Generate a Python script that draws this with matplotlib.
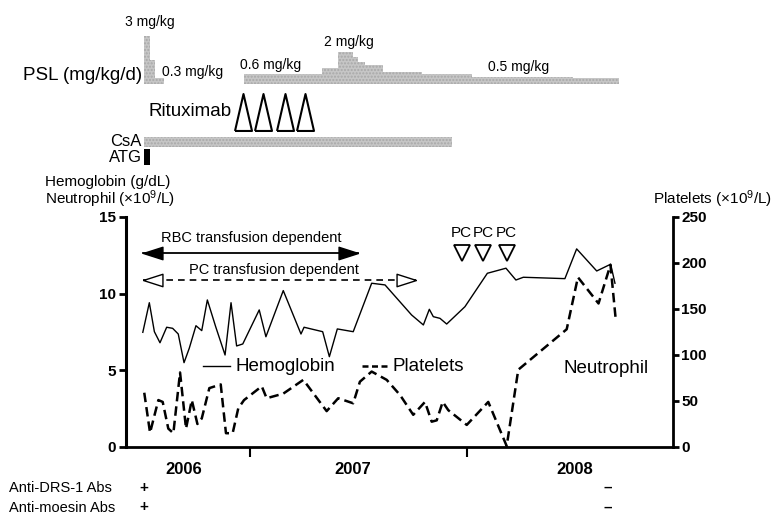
import numpy as np
import matplotlib
matplotlib.use('Agg')
import matplotlib.pyplot as plt
from matplotlib.transforms import blended_transform_factory

plt.rcParams['font.family'] = ['Liberation Sans', 'DejaVu Sans']
plt.rcParams['mathtext.fontset'] = 'custom'
plt.rcParams['mathtext.rm'] = 'Liberation Sans'
plt.rcParams['mathtext.it'] = 'Liberation Sans:italic'
plt.rcParams['mathtext.bf'] = 'Liberation Sans:bold'

# ---------------- data (x = months since Jan 2006) ----------------
hb_month = [6.07, 6.43, 6.71, 7.02, 7.39, 7.72, 8.03, 8.35, 8.64, 9.01, 9.33, 9.64,
            10.10, 10.62, 10.95, 11.26, 11.60, 12.51, 12.88, 13.84, 14.82, 14.99,
            16.02, 16.39, 16.83, 17.71, 18.73, 19.47, 20.94, 21.59, 21.92, 22.14,
            22.51, 22.88, 23.89, 25.13, 26.16, 26.71, 27.12, 29.42, 30.07, 31.18,
            31.95, 32.19]
hb_value = [7.48, 9.41, 7.52, 6.80, 7.81, 7.74, 7.37, 5.50, 6.44, 7.91, 7.59, 9.59,
            7.85, 6.00, 9.41, 6.59, 6.72, 8.94, 7.19, 10.2, 7.37, 7.81,
            7.52, 5.89, 7.70, 7.52, 10.68, 10.57, 8.61, 7.96, 8.98, 8.50,
            8.39, 8.02, 9.15, 11.33, 11.66, 10.89, 11.07, 10.98, 12.92, 11.48,
            11.92, 10.68]

plt_month = [6.15, 6.47, 6.93, 7.17, 7.48, 7.76, 8.13, 8.46, 8.78, 9.09, 9.33, 9.75,
             10.38, 10.67, 11.04, 11.35, 11.67, 12.65, 12.92, 13.84, 14.95, 16.24,
             16.88, 17.71, 18.08, 18.73, 19.56, 20.30, 21.03, 21.68, 22.05, 22.33,
             22.66, 22.97, 23.99, 25.18, 26.20, 26.84, 29.52, 30.14, 31.28, 31.94,
             32.22]
plt_value = [59, 15.5, 51, 49, 20, 15, 81, 20, 51, 25, 31, 64,
             68, 15, 15, 42, 51, 66, 53, 58, 73, 39,
             53, 47.5, 71, 82, 73, 56.5, 35, 49, 27.5, 29,
             49, 40, 24, 49, 1, 84, 128, 184.5, 156, 198,
             141]

psl_start = [6.15, 6.47, 6.75, 11.67, 15.97, 16.88, 17.71, 17.97, 18.36, 19.36, 21.50, 24.26, 29.86]
psl_end = [6.47, 6.75, 7.26, 15.97, 16.88, 17.71, 17.97, 18.36, 19.36, 21.50, 24.26, 29.86, 32.43]
psl_dose = [3.0, 1.5, 0.35, 0.65, 1.0, 2.0, 1.7, 1.4, 1.2, 0.75, 0.65, 0.45, 0.35]
psl_labels = ['3 mg/kg', '0.3 mg/kg', '0.6 mg/kg', '2 mg/kg', '0.5 mg/kg']

rituximab_month = [11.63, 12.74, 13.94, 15.04]
csa_start, csa_end = 6.15, 23.16
atg_start, atg_end = 6.15, 6.47
pc_month = [23.71, 24.90, 26.20]
rbc_dep = (6.07, 17.99)
pc_dep = (6.07, 21.18)

year_ticks = [12, 24]
year_labels = ['2006', '2007', '2008']
year_label_pos = [8.35, 17.7, 29.98]
hb_ticks = [0, 5, 10, 15]
plt_ticks = [0, 50, 100, 150, 200, 250]
antibody_rows = ['Anti-DRS-1 Abs', 'Anti-moesin Abs']
antibody_signs = ['+', '\u2013']
antibody_sign_month = [6.11, 31.77]

# ---------------- figure ----------------
W, H = 774, 516
fig = plt.figure(figsize=(W / 100, H / 100), dpi=100)


def fy(py):
    return 1 - py / H


ax = fig.add_axes([126 / W, fy(447), 547 / W, 230 / H])
ax.set_xlim(5.14, 35.40)
ax.set_ylim(0, 15)
ax2 = ax.twinx()
ax2.set_ylim(0, 250)

ax.plot(hb_month, hb_value, color='black', lw=1.0, zorder=3)
ax2.plot(plt_month, plt_value, color='black', lw=1.8, dashes=(3.8, 2.0), zorder=3)

for a in (ax, ax2):
    a.spines['top'].set_visible(False)
ax.spines['right'].set_visible(False)
ax2.spines['left'].set_visible(False)
ax2.spines['bottom'].set_visible(False)
ax.spines['left'].set_linewidth(2.2)
ax.spines['bottom'].set_linewidth(2.0)
ax2.spines['right'].set_linewidth(2.0)

ax.set_yticks(hb_ticks)
ax.tick_params(axis='y', direction='out', length=5, width=2, labelsize=11, pad=2)
for lab in ax.get_yticklabels():
    lab.set_fontweight('bold')
ax.set_xticks(year_ticks)
ax.set_xticklabels([])
ax.tick_params(axis='x', direction='out', length=7, width=1.5)
ax2.set_yticks(plt_ticks)
ax2.tick_params(axis='y', direction='out', length=4, width=2, labelsize=11, pad=2)
for lab in ax2.get_yticklabels():
    lab.set_fontweight('bold')

bt = blended_transform_factory(ax.transData, ax.transAxes)
for m, lab in zip(year_label_pos, year_labels):
    ax.text(m, -0.10, lab, transform=bt, ha='center', va='center',
            fontsize=12, fontweight='bold')

bf = blended_transform_factory(ax.transData, fig.transFigure)
for i, (row, py) in enumerate(zip(antibody_rows, [488, 507.5])):
    fig.text(9 / W, fy(py), row, ha='left', va='center', fontsize=10.5)
    for s, m in zip(antibody_signs, antibody_sign_month):
        fig.text(m, fy(py), s, transform=bf, ha='center', va='center',
                 fontsize=11, fontweight='bold')

# axis titles
fig.text(45 / W, fy(182), 'Hemoglobin (g/dL)', ha='left', va='center', fontsize=11)
fig.text(45 / W, fy(199), 'Neutrophil (\u00d710$^{9}$/L)', ha='left', va='center', fontsize=11)
fig.text(772 / W, fy(199), 'Platelets (\u00d710$^{9}$/L)', ha='right', va='center', fontsize=11)

# arrows for transfusion dependence
left_head = [(0, 0), (1, 0.32), (1, -0.32), (0, 0)]
right_head = [(0, 0), (-1, 0.32), (-1, -0.32), (0, 0)]
y_rbc, y_pc = 12.63, 10.89
ax.plot(rbc_dep, [y_rbc, y_rbc], color='black', lw=1.3, clip_on=False)
ax.plot([rbc_dep[0]], [y_rbc], marker=left_head, ms=28, color='black', ls='none', clip_on=False)
ax.plot([rbc_dep[1]], [y_rbc], marker=right_head, ms=28, color='black', ls='none', clip_on=False)
ax.text(12.09, 13.61, 'RBC transfusion dependent', ha='center', va='center', fontsize=10.5)

ax.plot(pc_dep, [y_pc, y_pc], color='black', lw=1.2, dashes=(4, 3), clip_on=False)
ax.plot([pc_dep[0]], [y_pc], marker=left_head, ms=28, mfc='white', mec='black', mew=1.0,
        ls='none', clip_on=False, zorder=4)
ax.plot([pc_dep[1]], [y_pc], marker=right_head, ms=28, mfc='white', mec='black', mew=1.0,
        ls='none', clip_on=False, zorder=4)
ax.text(13.32, 11.55, 'PC transfusion dependent', ha='center', va='center', fontsize=10.5)

# PC transfusions
ax.plot(pc_month, [12.63] * len(pc_month), marker='v', ms=11.5, mfc='white', mec='black',
        mew=1.3, ls='none', clip_on=False)
for m in pc_month:
    ax.text(m, 13.98, 'PC', ha='center', va='center', fontsize=11)

# legend-like labels
ax.plot([0.1413, 0.1901], [0.352, 0.352], transform=ax.transAxes, color='black', lw=1.0)
ax.text(0.1993, 0.352, 'Hemoglobin', transform=ax.transAxes, ha='left', va='center', fontsize=13.5)
ax.plot([0.4309, 0.4826], [0.352, 0.352], transform=ax.transAxes, color='black', lw=1.8,
        dashes=(2.4, 1.4))
ax.text(0.488, 0.352, 'Platelets', transform=ax.transAxes, ha='left', va='center', fontsize=13.5)
ax.text(0.7995, 0.342, 'Neutrophil', transform=ax.transAxes, ha='left', va='center', fontsize=13.5)

# ---------------- top treatment panel ----------------
gray = '#c6c6c6'
ax_psl = fig.add_axes([126 / W, fy(84), 547 / W, 51.2 / H], sharex=ax)
ax_psl.set_ylim(0, 3.2)
ax_psl.axis('off')
ax_psl.bar(psl_start, psl_dose, width=np.subtract(psl_end, psl_start), align='edge',
           color=gray, hatch='.....', edgecolor='#a8a8a8', lw=0)

ax_top = fig.add_axes([126 / W, fy(217), 547 / W, 217 / H], sharex=ax)
ax_top.set_ylim(217, 0)
ax_top.axis('off')
ax_top.broken_barh([(csa_start, csa_end - csa_start)], (136.7, 10.6), facecolor=gray,
                   hatch='.....', edgecolor='#a8a8a8', lw=0)
ax_top.broken_barh([(atg_start, atg_end - atg_start)], (149, 16), facecolor='black')
tri = [(-0.23, -0.5), (0.23, -0.5), (0, 0.5), (-0.23, -0.5)]
ax_top.plot(rituximab_month, [111.7] * len(rituximab_month), marker=tri, ms=26.6,
            mfc='white', mec='black', mew=1.5, ls='none')

fig.text(141.7 / W, fy(76), 'PSL (mg/kg/d)', ha='right', va='center', fontsize=13.5)
fig.text(231.7 / W, fy(111.7), 'Rituximab', ha='right', va='center', fontsize=13.5)
fig.text(141.7 / W, fy(141), 'CsA', ha='right', va='center', fontsize=12)
fig.text(141.7 / W, fy(158), 'ATG', ha='right', va='center', fontsize=12)

for lab, (px, py) in zip(psl_labels, [(150, 22), (192.5, 71.7), (270.5, 65), (349, 42), (519, 66.7)]):
    fig.text(px / W, fy(py), lab, ha='center', va='center', fontsize=10)

fig.savefig('out.png', dpi=100)
